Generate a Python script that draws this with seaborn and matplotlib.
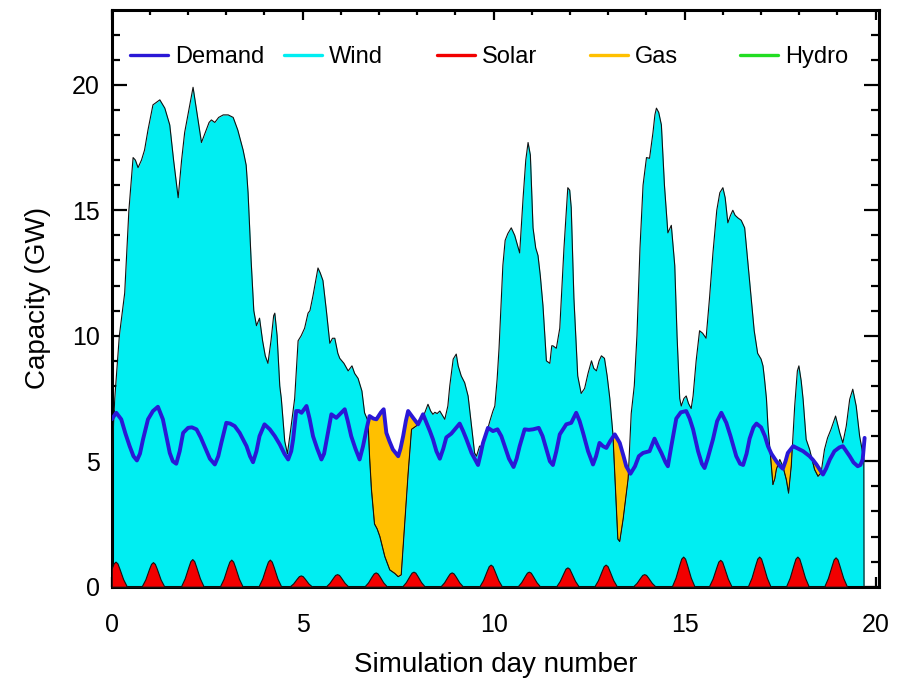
import numpy as np
import matplotlib
matplotlib.use("Agg")
import matplotlib.pyplot as plt
from matplotlib.lines import Line2D
from matplotlib.ticker import MultipleLocator
import seaborn as sns

# ---------------- data ----------------
wind_day = [
    0.00, 0.005, 0.04, 0.08, 0.20, 0.34, 0.45, 0.56, 0.62, 0.69,
    0.78, 0.86, 0.95, 1.08, 1.17, 1.26, 1.39, 1.52, 1.62, 1.74,
    1.83, 1.91, 2.02, 2.13, 2.22, 2.35, 2.45, 2.55, 2.61, 2.70,
    2.80, 2.92, 3.05, 3.18, 3.30, 3.44, 3.52, 3.57, 3.65, 3.72,
    3.79, 3.87, 3.95, 4.02, 4.09, 4.17, 4.24, 4.27, 4.33, 4.40,
    4.44, 4.53, 4.60, 4.68, 4.79, 4.88, 4.96, 5.05, 5.14, 5.19,
    5.27, 5.40, 5.46, 5.53, 5.62, 5.71, 5.78, 5.84, 5.92, 5.97,
    6.08, 6.19, 6.29, 6.36, 6.45, 6.55, 6.62, 6.71, 6.75, 6.80,
    6.88, 6.95, 7.02, 7.15, 7.28, 7.41, 7.50, 7.58, 7.67, 7.76,
    7.85, 7.97, 8.05, 8.15, 8.28, 8.35, 8.41, 8.46, 8.52, 8.59,
    8.72, 8.80, 8.85, 8.94, 9.02, 9.07, 9.15, 9.24, 9.33, 9.42,
    9.50, 9.55, 9.63, 9.72, 9.81, 9.90, 9.98, 10.03, 10.09, 10.14,
    10.24, 10.30, 10.37, 10.46, 10.55, 10.68, 10.77, 10.84, 10.90, 10.96,
    11.03, 11.10, 11.16, 11.22, 11.29, 11.38, 11.47, 11.52, 11.55, 11.64,
    11.73, 11.84, 11.94, 11.99, 12.03, 12.10, 12.20, 12.29, 12.38, 12.47,
    12.56, 12.62, 12.69, 12.76, 12.82, 12.90, 12.97, 13.04, 13.12, 13.25,
    13.30, 13.39, 13.52, 13.60, 13.68, 13.75, 13.83, 13.91, 14.00, 14.08,
    14.17, 14.22, 14.26, 14.32, 14.39, 14.47, 14.56, 14.65, 14.74, 14.80,
    14.87, 14.91, 14.98, 15.04, 15.10, 15.17, 15.22, 15.26, 15.30, 15.39,
    15.47, 15.56, 15.65, 15.74, 15.84, 15.92, 16.00, 16.06, 16.13, 16.20,
    16.26, 16.32, 16.39, 16.48, 16.57, 16.65, 16.74, 16.82, 16.91, 17.00,
    17.05, 17.09, 17.14, 17.18, 17.27, 17.31, 17.36, 17.40, 17.49, 17.57,
    17.66, 17.72, 17.79, 17.88, 17.95, 17.99, 18.05, 18.10, 18.18, 18.27,
    18.40, 18.49, 18.57, 18.66, 18.74, 18.83, 18.95, 19.06, 19.14, 19.23,
    19.32, 19.40, 19.49, 19.58, 19.69, 19.695]
wind_gw = [
    0.0, 4.6, 6.2, 7.5, 10.0, 11.7, 15.0, 17.1, 17.0, 16.7,
    17.0, 17.4, 18.2, 19.2, 19.3, 19.4, 19.07, 18.4, 17.0, 15.5,
    17.0, 18.1, 19.0, 19.9, 19.0, 17.7, 18.1, 18.5, 18.6, 18.5,
    18.7, 18.8, 18.8, 18.7, 18.2, 17.4, 16.8, 15.7, 13.0, 11.0,
    10.4, 10.7, 9.8, 9.2, 8.9, 9.8, 10.8, 10.9, 10.0, 8.0,
    7.5, 5.8, 5.3, 6.2, 7.5, 9.8, 10.0, 10.3, 10.9, 11.0,
    11.6, 12.7, 12.5, 12.2, 11.0, 9.7, 9.9, 9.9, 9.3, 9.1,
    8.9, 8.6, 8.8, 8.5, 8.3, 7.8, 6.93, 6.6, 5.2, 3.87,
    2.5, 2.3, 2.0, 1.2, 0.67, 0.53, 0.4, 0.47, 2.5, 4.5,
    6.27, 6.4, 6.5, 6.75, 7.27, 7.0, 6.87, 6.95, 6.9, 7.0,
    6.67, 7.2, 8.0, 9.07, 9.27, 8.8, 8.4, 8.13, 7.6, 6.4,
    5.33, 5.2, 5.6, 5.6, 6.1, 6.6, 7.0, 7.2, 8.27, 9.5,
    12.8, 13.8, 14.07, 14.3, 14.0, 13.3, 15.5, 17.0, 17.7, 17.2,
    14.3, 13.5, 13.2, 12.4, 11.2, 9.0, 8.9, 9.6, 9.6, 9.5,
    10.3, 13.5, 15.9, 15.8, 15.1, 11.5, 8.4, 7.7, 7.9, 8.5,
    9.0, 8.7, 8.6, 9.0, 9.2, 9.1, 8.4, 7.5, 6.1, 1.9,
    1.8, 2.7, 4.3, 6.9, 8.0, 10.0, 13.5, 16.0, 17.1, 17.07,
    18.1, 18.8, 19.07, 18.9, 18.4, 16.0, 14.1, 14.4, 12.8, 10.0,
    7.5, 7.2, 7.5, 7.6, 7.3, 7.1, 7.6, 8.3, 9.0, 10.2,
    10.1, 9.9, 11.5, 13.3, 15.0, 15.7, 15.9, 15.5, 14.5, 14.8,
    15.0, 14.8, 14.7, 14.6, 14.3, 13.0, 11.5, 10.2, 9.3, 9.07,
    8.8, 8.27, 7.5, 6.4, 4.8, 4.07, 4.3, 4.67, 5.07, 4.8,
    4.27, 3.73, 4.8, 7.2, 8.6, 8.8, 8.2, 7.47, 5.87, 5.47,
    4.67, 4.4, 4.53, 5.47, 5.93, 6.27, 6.8, 6.13, 5.73, 6.4,
    7.47, 7.87, 7.2, 6.0, 5.07, 0.0]

demand_day = [
    0.00, 0.12, 0.25, 0.36, 0.47, 0.57, 0.66, 0.74, 0.82, 0.95,
    1.08, 1.21, 1.34, 1.43, 1.52, 1.60, 1.69, 1.78, 1.87, 2.00,
    2.10, 2.22, 2.33, 2.43, 2.57, 2.70, 2.79, 2.87, 3.00, 3.10,
    3.22, 3.35, 3.53, 3.62, 3.70, 3.79, 3.87, 4.00, 4.14, 4.27,
    4.40, 4.52, 4.62, 4.70, 4.75, 4.83, 4.90, 4.97, 5.10, 5.18,
    5.27, 5.38, 5.49, 5.56, 5.62, 5.75, 5.88, 5.97, 6.10, 6.18,
    6.27, 6.38, 6.49, 6.58, 6.67, 6.75, 6.85, 6.93, 7.05, 7.12,
    7.19, 7.27, 7.36, 7.50, 7.56, 7.63, 7.70, 7.76, 7.89, 8.02,
    8.15, 8.24, 8.33, 8.41, 8.50, 8.59, 8.68, 8.76, 8.89, 9.00,
    9.11, 9.20, 9.28, 9.42, 9.50, 9.59, 9.66, 9.72, 9.85, 9.98,
    10.10, 10.20, 10.29, 10.40, 10.52, 10.60, 10.68, 10.81, 10.92, 11.03,
    11.18, 11.28, 11.38, 11.47, 11.55, 11.64, 11.73, 11.90, 12.03, 12.16,
    12.25, 12.34, 12.47, 12.60, 12.68, 12.77, 12.86, 12.95, 13.05, 13.17,
    13.30, 13.40, 13.47, 13.58, 13.70, 13.80, 13.91, 14.08, 14.21, 14.30,
    14.39, 14.50, 14.56, 14.65, 14.78, 14.90, 15.04, 15.13, 15.22, 15.35,
    15.45, 15.52, 15.60, 15.74, 15.85, 15.96, 16.09, 16.20, 16.35, 16.45,
    16.53, 16.62, 16.70, 16.80, 16.88, 17.00, 17.10, 17.18, 17.27, 17.40,
    17.50, 17.57, 17.64, 17.70, 17.84, 18.01, 18.10, 18.27, 18.36, 18.45,
    18.62, 18.70, 18.80, 18.92, 19.05, 19.14, 19.23, 19.32, 19.42, 19.53,
    19.60, 19.66, 19.71]
demand_gw = [
    6.67, 6.93, 6.67, 6.10, 5.60, 5.20, 5.03, 5.30, 5.87, 6.67,
    7.00, 7.17, 6.67, 6.00, 5.33, 5.00, 4.90, 5.40, 6.13, 6.33,
    6.35, 6.27, 5.95, 5.60, 5.10, 4.87, 5.20, 5.73, 6.53, 6.50,
    6.40, 6.13, 5.60, 5.20, 4.96, 5.40, 6.00, 6.47, 6.27, 6.00,
    5.67, 5.30, 5.07, 5.40, 5.87, 7.00, 7.00, 6.93, 7.20, 6.70,
    6.00, 5.50, 5.07, 5.30, 5.80, 6.87, 6.73, 6.87, 7.07, 6.60,
    6.00, 5.50, 5.07, 5.60, 6.27, 6.80, 6.70, 6.67, 6.95, 7.07,
    6.13, 5.80, 5.47, 5.20, 5.50, 6.00, 6.60, 7.00, 6.73, 6.47,
    6.87, 6.53, 6.20, 5.87, 5.40, 5.10, 5.50, 5.95, 6.10, 6.30,
    6.50, 6.20, 5.90, 5.33, 5.10, 4.85, 5.30, 5.73, 6.33, 6.20,
    6.27, 6.00, 5.60, 5.10, 4.77, 5.10, 5.60, 6.27, 6.25, 6.27,
    6.33, 6.00, 5.47, 5.00, 4.85, 5.40, 6.07, 6.47, 6.53, 6.93,
    6.60, 6.13, 5.40, 4.87, 5.20, 5.73, 5.60, 5.53, 5.80, 6.07,
    5.73, 5.20, 4.80, 4.50, 4.80, 5.20, 5.33, 5.40, 5.90, 5.60,
    5.33, 4.95, 4.80, 5.60, 6.70, 6.95, 7.00, 6.70, 6.27, 5.40,
    4.90, 4.73, 5.10, 5.87, 6.60, 6.93, 6.53, 6.00, 5.20, 4.90,
    4.85, 5.30, 5.90, 6.35, 6.50, 6.35, 6.00, 5.60, 5.30, 5.00,
    4.80, 4.70, 5.00, 5.33, 5.60, 5.47, 5.40, 5.20, 5.05, 4.87,
    4.47, 4.70, 5.07, 5.40, 5.55, 5.60, 5.40, 5.20, 4.95, 4.80,
    4.85, 5.07, 5.93]

solar_day = [
    0.00, 0.05, 0.10, 0.15, 0.20, 0.30, 0.40,
    0.78, 0.88, 0.98, 1.03, 1.08, 1.13, 1.18, 1.28, 1.38,
    1.81, 1.91, 2.01, 2.06, 2.11, 2.16, 2.21, 2.31, 2.41,
    2.83, 2.93, 3.03, 3.08, 3.13, 3.18, 3.23, 3.33, 3.43,
    3.84, 3.94, 4.04, 4.09, 4.14, 4.19, 4.24, 4.34, 4.44,
    4.65, 4.75, 4.85, 4.90, 4.95, 5.00, 5.05, 5.15, 5.25,
    5.60, 5.70, 5.80, 5.85, 5.90, 5.95, 6.00, 6.10, 6.20,
    6.61, 6.71, 6.81, 6.86, 6.91, 6.96, 7.01, 7.11, 7.21,
    7.60, 7.70, 7.80, 7.85, 7.90, 7.95, 8.00, 8.10, 8.20,
    8.60, 8.70, 8.80, 8.85, 8.90, 8.95, 9.00, 9.10, 9.20,
    9.62, 9.72, 9.82, 9.87, 9.92, 9.97, 10.02, 10.12, 10.22,
    10.62, 10.72, 10.82, 10.87, 10.92, 10.97, 11.02, 11.12, 11.22,
    11.63, 11.73, 11.83, 11.88, 11.93, 11.98, 12.03, 12.13, 12.23,
    12.63, 12.73, 12.83, 12.88, 12.93, 12.98, 13.03, 13.13, 13.23,
    13.64, 13.74, 13.84, 13.89, 13.94, 13.99, 14.04, 14.14, 14.24,
    14.66, 14.76, 14.86, 14.91, 14.96, 15.01, 15.06, 15.16, 15.26,
    15.63, 15.73, 15.83, 15.88, 15.93, 15.98, 16.03, 16.13, 16.23,
    16.65, 16.75, 16.85, 16.90, 16.95, 17.00, 17.05, 17.15, 17.25,
    17.65, 17.75, 17.85, 17.90, 17.95, 18.00, 18.05, 18.15, 18.25,
    18.65, 18.75, 18.85, 18.90, 18.95, 19.00, 19.05, 19.15, 19.25]
solar_gw = [
    0.73, 0.93, 1.00, 0.93, 0.73, 0.30, 0.00,
    0.00, 0.29, 0.72, 0.91, 0.98, 0.91, 0.72, 0.29, 0.00,
    0.00, 0.33, 0.80, 1.02, 1.10, 1.02, 0.80, 0.33, 0.00,
    0.00, 0.32, 0.79, 1.00, 1.08, 1.00, 0.79, 0.32, 0.00,
    0.00, 0.32, 0.79, 1.00, 1.08, 1.00, 0.79, 0.32, 0.00,
    0.00, 0.13, 0.33, 0.42, 0.45, 0.42, 0.33, 0.13, 0.00,
    0.00, 0.15, 0.37, 0.47, 0.50, 0.47, 0.37, 0.15, 0.00,
    0.00, 0.17, 0.42, 0.53, 0.57, 0.53, 0.42, 0.17, 0.00,
    0.00, 0.18, 0.44, 0.56, 0.60, 0.56, 0.44, 0.18, 0.00,
    0.00, 0.17, 0.42, 0.53, 0.57, 0.53, 0.42, 0.17, 0.00,
    0.00, 0.26, 0.64, 0.82, 0.88, 0.82, 0.64, 0.26, 0.00,
    0.00, 0.18, 0.44, 0.56, 0.60, 0.56, 0.44, 0.18, 0.00,
    0.00, 0.23, 0.56, 0.72, 0.77, 0.72, 0.56, 0.23, 0.00,
    0.00, 0.26, 0.64, 0.82, 0.88, 0.82, 0.64, 0.26, 0.00,
    0.00, 0.15, 0.37, 0.47, 0.50, 0.47, 0.37, 0.15, 0.00,
    0.00, 0.36, 0.88, 1.12, 1.20, 1.12, 0.88, 0.36, 0.00,
    0.00, 0.32, 0.78, 1.00, 1.07, 1.00, 0.78, 0.32, 0.00,
    0.00, 0.36, 0.88, 1.12, 1.20, 1.12, 0.88, 0.36, 0.00,
    0.00, 0.36, 0.88, 1.12, 1.20, 1.12, 0.88, 0.36, 0.00,
    0.00, 0.35, 0.85, 1.09, 1.17, 1.09, 0.85, 0.35, 0.00]

series_names = ["Demand", "Wind", "Solar", "Gas", "Hydro"]
series_colors = ["#2A18D6", "#00EEF2", "#F20000", "#FFC000", "#22DD22"]
x_ticks = [0, 5, 10, 15, 20]
y_ticks = [0, 5, 10, 15, 20]
x_label = "Simulation day number"
y_label = "Capacity (GW)"

assert len(wind_day) == len(wind_gw)
assert len(demand_day) == len(demand_gw)
assert len(solar_day) == len(solar_gw)

# ---------------- styling ----------------
sns.set_theme(style="ticks")
plt.rcParams["font.family"] = ["Liberation Sans", "DejaVu Sans"]
plt.rcParams["axes.linewidth"] = 2.2
for k in ["text.color", "axes.labelcolor", "xtick.color", "ytick.color",
          "xtick.labelcolor", "ytick.labelcolor", "axes.edgecolor"]:
    plt.rcParams[k] = "black"

W, H = 909, 680
fig = plt.figure(figsize=(W / 100, H / 100), dpi=100)
ax_l, ax_r, ax_t, ax_b = 111.7, 879.5, 10.0, 586.7
ax = fig.add_axes([ax_l / W, 1 - ax_b / H, (ax_r - ax_l) / W, (ax_b - ax_t) / H])

c_dem, c_wind, c_sol, c_gas, c_hyd = series_colors

wx = np.array(wind_day); wy = np.array(wind_gw)
dx = np.array(demand_day); dy = np.array(demand_gw)

# wind area
ax.fill_between(wx, 0, wy, color=c_wind, linewidth=0, zorder=1)

# gas fills the gap between wind and demand
grid = np.union1d(np.union1d(wx[:-1], dx[dx <= wx[-2]]), np.linspace(0, wx[-2], 3000))
w_on = np.interp(grid, wx, wy)
d_on = np.interp(grid, dx, dy)
ax.fill_between(grid, w_on, d_on, where=d_on > w_on, interpolate=True,
                facecolor=c_gas, edgecolor="#4a4000", linewidth=0.5, zorder=2)

# wind outline
sns.lineplot(x=wx, y=wy, ax=ax, color="#111111", linewidth=0.8, sort=False,
             estimator=None, zorder=3)

# solar bumps
ax.fill_between(solar_day, 0, solar_gw, facecolor=c_sol, edgecolor="#111111",
                linewidth=0.8, zorder=4)

# demand line
sns.lineplot(x=dx, y=dy, ax=ax, color=c_dem, linewidth=2.8, sort=False,
             estimator=None, zorder=5)

ax.set_xlim(0, 20.1)
ax.set_ylim(0, 22.98)
ax.set_xticks(x_ticks)
ax.set_xticklabels([str(t) for t in x_ticks])
ax.set_yticks(y_ticks)
ax.set_yticklabels([str(t) for t in y_ticks])
ax.xaxis.set_minor_locator(MultipleLocator(1))
ax.yaxis.set_minor_locator(MultipleLocator(1))

ax.tick_params(axis="x", which="major", direction="in", top=True, bottom=True,
               length=7.5, width=1.6, pad=19, labelsize=18, colors="black")
ax.tick_params(axis="x", which="minor", direction="in", top=True, bottom=True,
               length=3.8, width=1.6, colors="black")
ax.tick_params(axis="y", which="major", direction="in", left=True, right=True,
               length=10.5, width=1.6, pad=8.5, labelsize=18, colors="black")
ax.tick_params(axis="y", which="minor", direction="in", left=True, right=True,
               length=5.5, width=1.6, colors="black")
for s in ax.spines.values():
    s.set_color("black")
    s.set_linewidth(2.2)

ax.set_xlabel(x_label, fontsize=20, labelpad=11, color="black")
ax.set_ylabel(y_label, fontsize=20, labelpad=15, color="black")

# legend: five entries at fixed positions along the top
leg_px = [130, 284, 437, 590, 740]
leg_y = (ax_b - 57) / (ax_b - ax_t)
legends = []
for name, col, px in zip(series_names, series_colors, leg_px):
    h = Line2D([], [], color=col, linewidth=2.4)
    leg = ax.legend(handles=[h], labels=[name], loc="center left",
                    bbox_to_anchor=((px - ax_l) / (ax_r - ax_l), leg_y),
                    frameon=False, fontsize=17, borderpad=0, borderaxespad=0,
                    handlelength=1.6, handletextpad=0.3, labelcolor="black")
    legends.append(leg)
for leg in legends[:-1]:
    ax.add_artist(leg)

fig.savefig("out.png", dpi=100)
